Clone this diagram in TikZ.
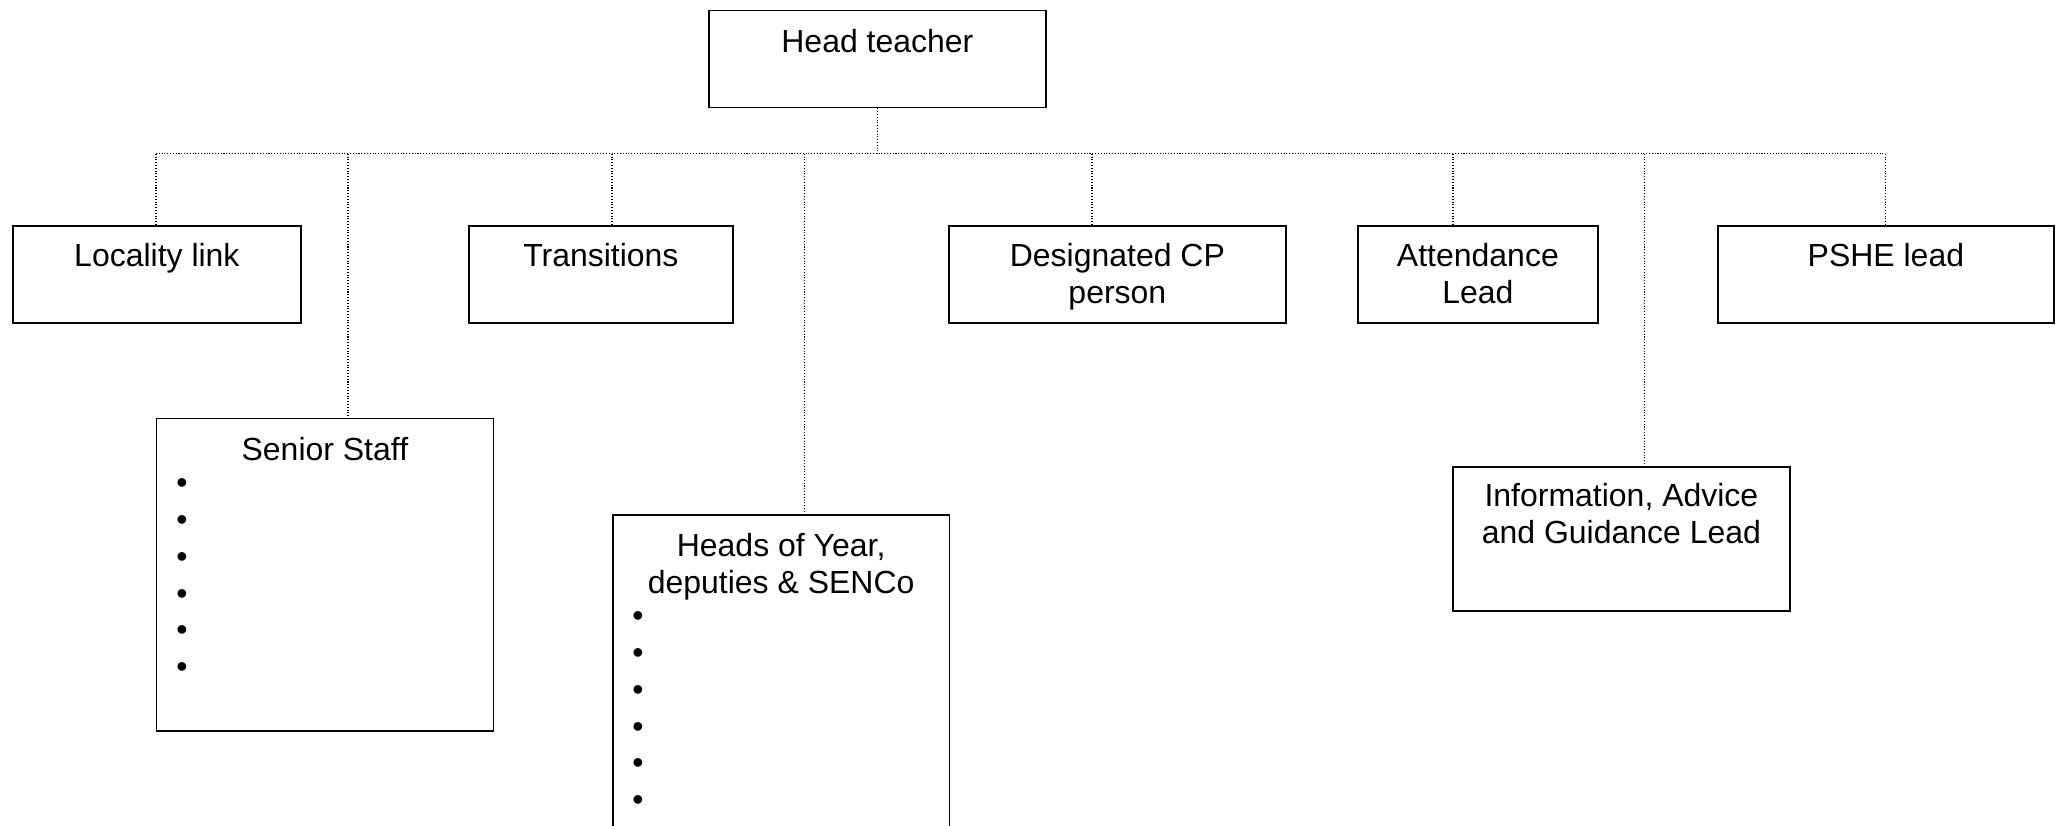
\documentclass[tikz,border=0pt]{standalone}
\usepackage{fontspec}
\setmainfont{Liberation Sans}
\usetikzlibrary{positioning, calc}

\begin{document}
\begin{tikzpicture}[
    every node/.style={font=\fontsize{18.2}{20.94}\selectfont},
    post/.style={draw=black, line width=1pt, anchor=north west, inner sep=0pt},
    title/.style={anchor=north, align=center, inner sep=0pt},
    bullet/.style={anchor=base, inner sep=0pt},
    link/.style={black, line width=0.6pt, densely dotted}
  ]

    \useasboundingbox (0,0) rectangle (41.26,-16.5);

    % Head of the chart
    \node[post, minimum width=6.74cm, minimum height=1.94cm] (head) at (14.16,-0.19) {};
    \node[title] (head-t) at ([yshift=-0.38cm]head.north) {Head teacher};

    % First row of posts
    \node[post, minimum width=5.76cm, minimum height=1.94cm] (loc) at (0.24,-4.5) {};
    \node[post, minimum width=5.28cm, minimum height=1.94cm] (trans) at (9.36,-4.5) {};
    \node[post, minimum width=6.74cm, minimum height=1.94cm] (dcp) at (18.96,-4.5) {};
    \node[post, minimum width=4.80cm, minimum height=1.94cm] (att) at (27.14,-4.5) {};
    \node[post, minimum width=6.72cm, minimum height=1.94cm] (pshe) at (34.34,-4.5) {};

    \node[title] (loc-t) at ([yshift=-0.36cm]loc.north) {Locality link};
    \node[title] (trans-t) at ([yshift=-0.36cm]trans.north) {Transitions};
    \node[title] (dcp-t) at ([yshift=-0.36cm]dcp.north) {Designated CP\\person};
    \node[title] (att-t) at ([yshift=-0.36cm]att.north) {Attendance\\Lead};
    \node[title] (pshe-t) at ([yshift=-0.36cm]pshe.north) {PSHE lead};

    % Lower posts
    \node[post, minimum width=6.74cm, minimum height=6.25cm] (senior) at (3.11,-8.35) {};
    \node[post, minimum width=6.73cm, minimum height=6.9cm] (hoy) at (12.24,-10.28) {};
    \node[post, minimum width=6.74cm, minimum height=2.88cm] (iag) at (29.04,-9.32) {};

    \node[title] (senior-t) at ([yshift=-0.38cm]senior.north) {Senior Staff};
    \node[title] (hoy-t) at ([yshift=-0.38cm]hoy.north) {Heads of Year,\\deputies \& SENCo};
    \node[title] (iag-t) at ([yshift=-0.34cm]iag.north) {Information, Advice\\and Guidance Lead};

    % Empty bullet lists
    \foreach \i in {0,...,5} {
      \node[bullet] (sb\i) at (3.64,-9.876-0.735*\i) {•};
      \node[bullet] (hb\i) at (12.76,-12.536-0.735*\i) {•};
    }

    % Dotted connectors
    \coordinate (bus-w) at (3.12,-3.074);
    \coordinate (bus-e) at (37.70,-3.074);
    \draw[link] (bus-w) -- (bus-e);
    \draw[link] (head.south) -- (head.south |- bus-w);
    \foreach \nm/\x in {loc/3.12, senior/6.96, trans/12.24, hoy/16.09,
                        dcp/21.84, att/29.06, iag/32.89, pshe/37.70} {
      \coordinate (tap-\nm) at (\x,-3.074);
      \draw[link] (tap-\nm) -- (tap-\nm |- \nm.north);
    }

\end{tikzpicture}
\end{document}
